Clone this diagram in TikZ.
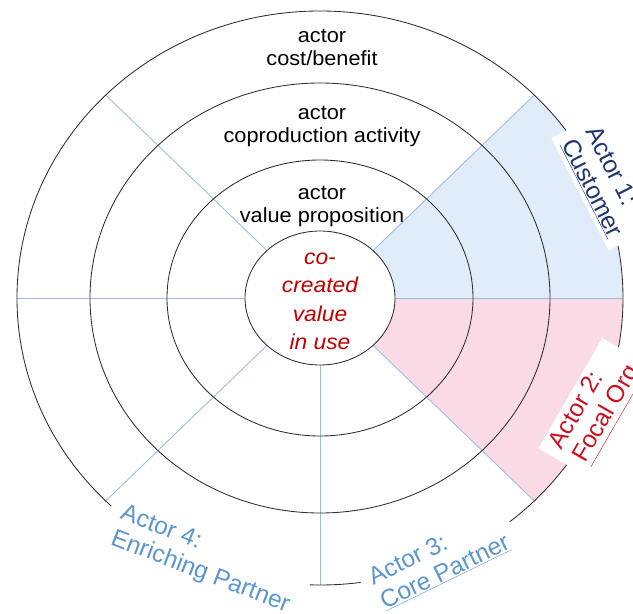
\documentclass[tikz,border=0pt]{standalone}
\usepackage{fontspec}
\setmainfont{Liberation Sans}[FakeStretch=1.06]
\newfontfamily\lblfont{Liberation Sans}
\usetikzlibrary{calc}
\definecolor{ringc}{RGB}{45,45,45}
\definecolor{spokec}{RGB}{160,188,222}
\definecolor{bfill}{RGB}{224,236,249}
\definecolor{pfill}{RGB}{250,219,229}
\definecolor{navyc}{RGB}{31,52,112}
\definecolor{redc}{RGB}{204,16,32}
\definecolor{lbluec}{RGB}{91,150,210}
\definecolor{ctrred}{RGB}{192,0,0}
\begin{document}
\begin{tikzpicture}[x=1pt,y=1pt,
  ring/.style={draw=ringc, line width=0.85pt},
  spoke/.style={draw=spokec, line width=0.9pt},
  ringtxt/.style={font=\fontsize{20.5}{23}\selectfont, anchor=base, inner sep=0pt},
  ctr/.style={font=\fontsize{21.5}{28}\selectfont\itshape, text=ctrred, anchor=base, inner sep=0pt},
  actorlbl/.style={fill=white, align=left, inner xsep=10pt, inner ysep=4pt, font=\lblfont\fontsize{24.5}{27}\selectfont}
]
\useasboundingbox (0,0) rectangle (633,614);
\clip (0,0) rectangle (633,614);
\coordinate (C) at (320,316);
\foreach \a in {0,45,135,180,225,270,315}{
  \coordinate (i\a) at ($(C)+(\a:75 and 67)$);
  \coordinate (o\a) at ($(C)+(\a:303 and 287)$);
}
% shaded sectors
\fill[bfill] (i0) -- (o0) arc[start angle=0,end angle=45,x radius=303,y radius=287]
  -- (i45) arc[start angle=45,end angle=0,x radius=75,y radius=67] -- cycle;
\fill[pfill] (i0) -- (o0) arc[start angle=0,end angle=-45,x radius=303,y radius=287]
  -- (i315) arc[start angle=-45,end angle=0,x radius=75,y radius=67] -- cycle;
% spokes
\foreach \a in {0,45,135,180,225,270,315}{
  \draw[spoke] (i\a) -- (o\a);
}
% rings
\draw[ring] (C) ellipse[x radius=303,y radius=287];
\draw[ring] (C) ellipse[x radius=230,y radius=215];
\draw[ring] (C) ellipse[x radius=153,y radius=138];
\draw[ring] (C) ellipse[x radius=75,y radius=67];
% actor labels
\node[actorlbl, text=navyc, rotate=-63] (a1) at (604,432) {Actor 1:\\\underline{Customer}};
\node[actorlbl, text=redc, rotate=60] (a2) at (596,206) {Actor 2:\\\underline{Focal Org}};
\node[actorlbl, text=lbluec, rotate=26] (a3) at (439,54) {Actor 3:\\\underline{Core Partner}};
\node[actorlbl, text=lbluec, rotate=-21, inner xsep=12pt] (a4) at (205,54) {Actor 4:\\Enriching Partner};
% ring texts
\node[ringtxt] (t1a) at (322,571) {actor};
\node[ringtxt] (t1b) at (322,548) {cost/benefit};
\node[ringtxt] (t2a) at (322,494) {actor};
\node[ringtxt] (t2b) at (322,471) {coproduction activity};
\node[ringtxt] (t3a) at (322,414) {actor};
\node[ringtxt] (t3b) at (322,391) {value proposition};
% centre text
\node[ctr] (c1) at (320,349) {co-};
\node[ctr] (c2) at (320,321) {created};
\node[ctr] (c3) at (320,292) {value};
\node[ctr] (c4) at (320,264) {in use};
\end{tikzpicture}
\end{document}
